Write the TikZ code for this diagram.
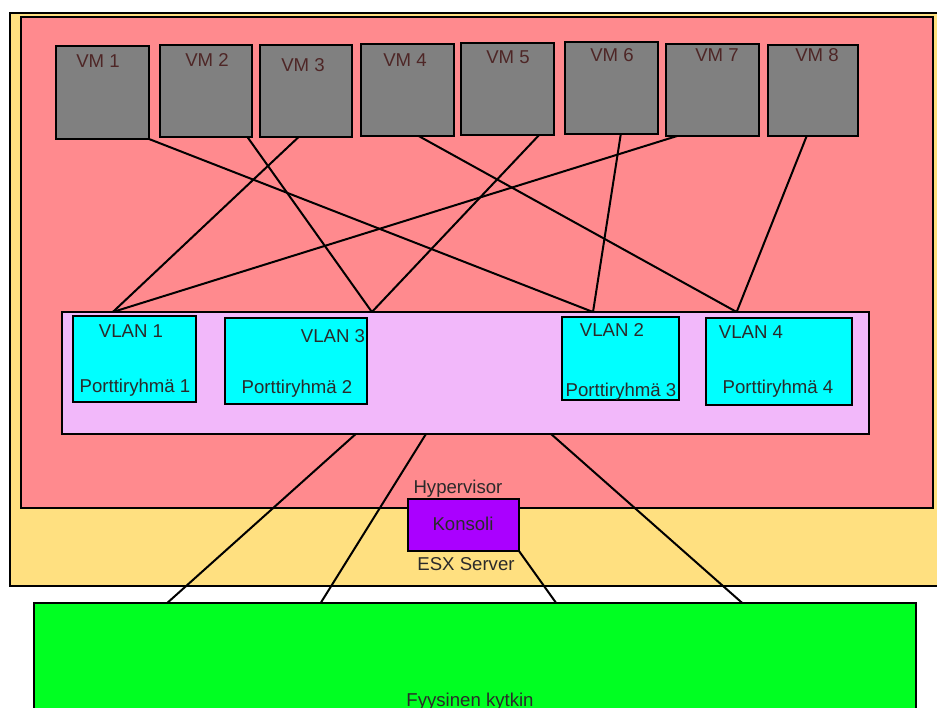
\documentclass[tikz,border=0pt]{standalone}
\usepackage{fontspec}
\setmainfont{Liberation Sans}
\usetikzlibrary{calc}
\definecolor{esxyellow}{HTML}{FFE080}
\definecolor{hvpink}{HTML}{FF8A8E}
\definecolor{vswitch}{HTML}{F2B8FA}
\definecolor{vmgray}{HTML}{808080}
\definecolor{pgcyan}{HTML}{00FFFF}
\definecolor{konsolifill}{HTML}{AA00FF}
\definecolor{physgreen}{HTML}{00FF22}
\definecolor{vmtext}{HTML}{4E2626}
\definecolor{labeltext}{HTML}{2A2A2A}

\begin{document}
\begin{tikzpicture}[x=1pt,y=-1pt,
  box/.style={draw=black, line width=2pt, anchor=north west, inner sep=0pt, outer sep=0pt},
  vmbox/.style={box, fill=vmgray},
  pgbox/.style={box, fill=pgcyan},
  txt/.style={font=\fontsize{18.6}{20}\selectfont, text=labeltext, anchor=base, inner sep=0pt},
  vmtxt/.style={txt, text=vmtext},
  wire/.style={draw=black, line width=2pt}]

\useasboundingbox (0,0) rectangle (937,708);

% ESX server and hypervisor
\node[box, fill=esxyellow, minimum width=940pt, minimum height=573pt] (esx) at (10,13) {};
\node[box, fill=hvpink, minimum width=912pt, minimum height=491pt] (hyp) at (21,17) {};

% virtual machines
\node[vmbox, minimum width=93pt, minimum height=93pt] (vm1) at (56,46) {};
\node[vmbox, minimum width=92pt, minimum height=92pt] (vm2) at (160,45) {};
\node[vmbox, minimum width=92pt, minimum height=92pt] (vm3) at (260,45) {};
\node[vmbox, minimum width=93pt, minimum height=92pt] (vm4) at (361,44) {};
\node[vmbox, minimum width=93pt, minimum height=92pt] (vm5) at (461,43) {};
\node[vmbox, minimum width=93pt, minimum height=92pt] (vm6) at (565,42) {};
\node[vmbox, minimum width=93pt, minimum height=92pt] (vm7) at (666,44) {};
\node[vmbox, minimum width=90pt, minimum height=91pt] (vm8) at (768,45) {};

\node[vmtxt] (vm1t) at (98,68) {VM 1};
\node[vmtxt] (vm2t) at (207,67) {VM 2};
\node[vmtxt] (vm3t) at (303,72) {VM 3};
\node[vmtxt] (vm4t) at (405,67) {VM 4};
\node[vmtxt] (vm5t) at (508,64) {VM 5};
\node[vmtxt] (vm6t) at (612,62) {VM 6};
\node[vmtxt] (vm7t) at (717,62) {VM 7};
\node[vmtxt] (vm8t) at (817,62) {VM 8};

% virtual switch with its port groups
\node[box, fill=vswitch, minimum width=807pt, minimum height=122pt] (sw) at (62,312) {};
\node[pgbox, minimum width=123pt, minimum height=86pt] (pg1) at (73,316) {};
\node[pgbox, minimum width=142pt, minimum height=86pt] (pg2) at (225,318) {};
\node[pgbox, minimum width=117pt, minimum height=83pt] (pg3) at (562,317) {};
\node[pgbox, minimum width=146pt, minimum height=87pt] (pg4) at (706,318) {};

\node[txt] (v1t) at (131,338) {VLAN 1};
\node[txt] (p1t) at (135,392) {Porttiryhmä 1};
\node[txt] (v3t) at (333,343) {VLAN 3};
\node[txt] (p2t) at (297,394) {Porttiryhmä 2};
\node[txt] (v2t) at (612,337) {VLAN 2};
\node[txt] (p3t) at (621,396) {Porttiryhmä 3};
\node[txt] (v4t) at (751,339) {VLAN 4};
\node[txt] (p4t) at (778,394) {Porttiryhmä 4};

% physical switch
\node[box, fill=physgreen, minimum width=882pt, minimum height=150pt] (phys) at (34,603) {};

% VM to port group links
\draw[wire] (vm1.south east) -- ($(sw.north west)!0.658!(sw.north east)$);
\draw[wire] ($(vm2.south west)!0.95!(vm2.south east)$) -- ($(sw.north west)!0.384!(sw.north east)$);
\draw[wire] ($(vm3.south west)!0.42!(vm3.south east)$) -- ($(sw.north west)!0.063!(sw.north east)$);
\draw[wire] ($(vm4.south west)!0.62!(vm4.south east)$) -- ($(sw.north west)!0.836!(sw.north east)$);
\draw[wire] ($(vm5.south west)!0.84!(vm5.south east)$) -- ($(sw.north west)!0.384!(sw.north east)$);
\draw[wire] ($(vm6.south west)!0.60!(vm6.south east)$) -- ($(sw.north west)!0.658!(sw.north east)$);
\draw[wire] ($(vm7.south west)!0.12!(vm7.south east)$) -- ($(sw.north west)!0.063!(sw.north east)$);
\draw[wire] ($(vm8.south west)!0.43!(vm8.south east)$) -- ($(sw.north west)!0.836!(sw.north east)$);

% uplinks to the physical switch
\draw[wire] ($(sw.south west)!0.364!(sw.south east)$) -- ($(phys.north west)!0.151!(phys.north east)$);
\draw[wire] ($(sw.south west)!0.451!(sw.south east)$) -- ($(phys.north west)!0.325!(phys.north east)$);
\draw[wire] ($(sw.south west)!0.606!(sw.south east)$) -- ($(phys.north west)!0.803!(phys.north east)$);

% service console
\node[box, fill=konsolifill, minimum width=111pt, minimum height=52pt] (kons) at (408,499) {};
\draw[wire] (kons.south east) -- ($(phys.north west)!0.592!(phys.north east)$);

\node[txt] (kt) at (463,530) {Konsoli};
\node[txt] (hvt) at (458,493) {Hypervisor};
\node[txt] (esxt) at (466,570) {ESX Server};
\node[txt] (fyst) at (470,706) {Fyysinen kytkin};

\end{tikzpicture}
\end{document}
